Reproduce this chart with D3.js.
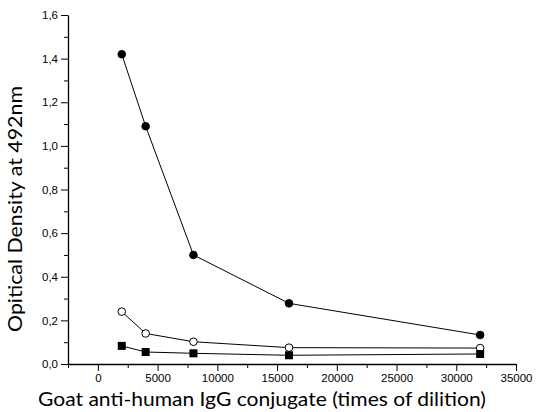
<!DOCTYPE html>
<html>
<head>
<meta charset="utf-8">
<script src="https://cdn.jsdelivr.net/npm/d3@7"></script>
<style>
  body { margin: 0; background: #fff; }
  svg { display: block; }
</style>
</head>
<body>
<svg id="chart"></svg>
<script>
// Dilution steps and measured optical densities
const dilutions = [2000, 4000, 8000, 16000, 32000];
const filledCircle = [1.42, 1.09, 0.50, 0.278, 0.133];
const openCircle = [0.24, 0.14, 0.102, 0.075, 0.073];
const filledSquare = [0.083, 0.055, 0.049, 0.04, 0.046];

const xTicks = [0, 5000, 10000, 15000, 20000, 25000, 30000, 35000];
const yTicks = [0, 0.2, 0.4, 0.6, 0.8, 1.0, 1.2, 1.4, 1.6];

const width = 536, height = 412;
const margin = { top: 15, right: 20, bottom: 48, left: 68 };

const svg = d3.select("#chart").attr("width", width).attr("height", height);

const x = d3.scaleLinear().domain([-2500, 35000]).range([margin.left, width - margin.right]);
const y = d3.scaleLinear().domain([0, 1.6]).range([height - margin.bottom, margin.top]);

const fmt = d => d3.format(".1f")(d).replace(".", ",");

// Minor ticks first, then major axes
svg.append("g")
  .attr("transform", `translate(0,${y(0)})`)
  .call(d3.axisBottom(x).tickValues(d3.range(-2500, 35000, 5000)).tickSize(4).tickFormat(""))
  .call(g => g.select(".domain").remove());

svg.append("g")
  .attr("transform", `translate(${x(-2500)},0)`)
  .call(d3.axisLeft(y).tickValues(d3.range(0.1, 1.6, 0.2)).tickSize(4).tickFormat(""))
  .call(g => g.select(".domain").remove());

const xAxis = svg.append("g")
  .attr("transform", `translate(0,${y(0)})`)
  .call(d3.axisBottom(x).tickValues(xTicks).tickSize(7).tickPadding(3).tickSizeOuter(0).tickFormat(d3.format("d")));

const yAxis = svg.append("g")
  .attr("transform", `translate(${x(-2500)},0)`)
  .call(d3.axisLeft(y).tickValues(yTicks).tickSize(7).tickPadding(3).tickSizeOuter(0).tickFormat(fmt));

[xAxis, yAxis].forEach(a => {
  a.selectAll("text").attr("font-family", "Liberation Sans, Arial, sans-serif").attr("font-size", 11.5).attr("fill", "#000");
  a.select(".domain").attr("stroke-width", 1.3);
});
svg.selectAll(".tick line").attr("stroke", "#000");

// Axis titles
svg.append("text")
  .attr("x", 262).attr("y", 406)
  .attr("text-anchor", "middle")
  .attr("font-family", "Lato, sans-serif")
  .attr("font-size", 20)
  .attr("textLength", 448)
  .attr("lengthAdjust", "spacingAndGlyphs")
  .text("Goat anti-human IgG conjugate (times of dilition)");

svg.append("text")
  .attr("transform", `translate(22,${209}) rotate(-90)`)
  .attr("text-anchor", "middle")
  .attr("font-family", "Lato, sans-serif")
  .attr("font-size", 20)
  .attr("textLength", 246)
  .attr("lengthAdjust", "spacingAndGlyphs")
  .text("Opitical Density at 492nm");

// Series
const line = d3.line().x(d => x(d[0])).y(d => y(d[1]));
const series = [
  { values: filledCircle, marker: "dot", fill: "#000" },
  { values: openCircle, marker: "dot", fill: "#fff" },
  { values: filledSquare, marker: "square", fill: "#000" }
];

series.forEach(s => {
  const pts = dilutions.map((d, i) => [d, s.values[i]]);
  svg.append("path")
    .attr("d", line(pts))
    .attr("fill", "none")
    .attr("stroke", "#000")
    .attr("stroke-width", 1);
  if (s.marker === "dot") {
    svg.append("g").selectAll("circle").data(pts).join("circle")
      .attr("cx", d => x(d[0])).attr("cy", d => y(d[1]))
      .attr("r", 3.8)
      .attr("fill", s.fill)
      .attr("stroke", "#000")
      .attr("stroke-width", 1);
  } else {
    svg.append("g").selectAll("rect").data(pts).join("rect")
      .attr("x", d => x(d[0]) - 4).attr("y", d => y(d[1]) - 4)
      .attr("width", 8).attr("height", 8)
      .attr("fill", s.fill);
  }
});
</script>
</body>
</html>
